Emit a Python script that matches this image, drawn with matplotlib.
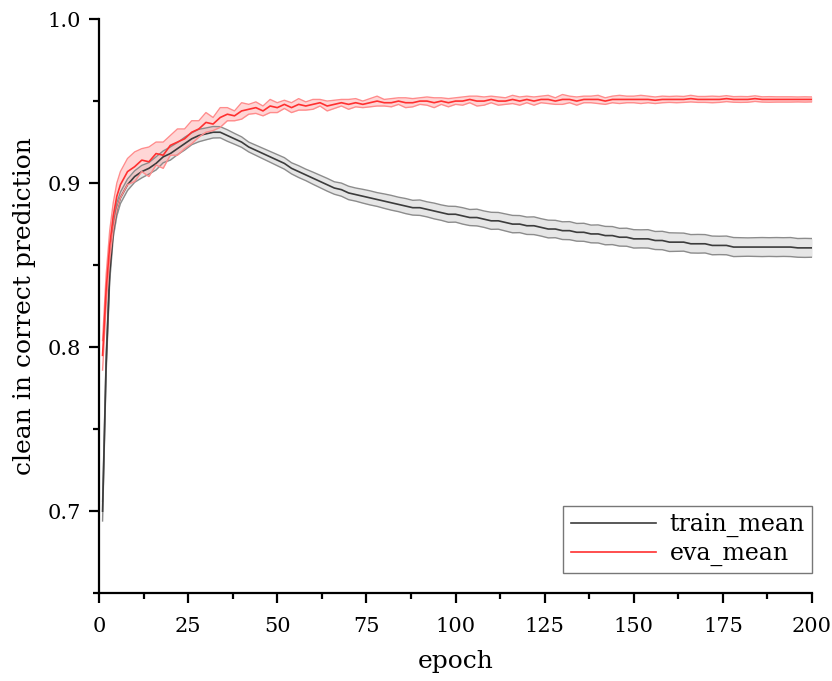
import matplotlib.pyplot as plt
import numpy as np

epoch = np.r_[1:7, 8:201:2]

train_mean = [
    0.700, 0.790, 0.845, 0.871, 0.884, 0.891,
    0.899, 0.904, 0.907, 0.909, 0.912, 0.916, 0.918, 0.921, 0.924, 0.927,
    0.929, 0.930, 0.931, 0.931, 0.929, 0.927, 0.925, 0.922, 0.920, 0.918,
    0.916, 0.914, 0.912, 0.909, 0.907, 0.905, 0.903, 0.901, 0.899, 0.897,
    0.896, 0.894, 0.893, 0.892, 0.891, 0.890, 0.889, 0.888, 0.887, 0.886,
    0.885, 0.885, 0.884, 0.883, 0.882, 0.881, 0.881, 0.880, 0.879, 0.879,
    0.878, 0.877, 0.877, 0.876, 0.875, 0.875, 0.874, 0.874, 0.873, 0.872,
    0.872, 0.871, 0.871, 0.870, 0.870, 0.869, 0.869, 0.868, 0.868, 0.867,
    0.867, 0.866, 0.866, 0.866, 0.865, 0.865, 0.864, 0.864, 0.864, 0.863,
    0.863, 0.863, 0.862, 0.862, 0.862, 0.861, 0.861, 0.861, 0.861, 0.861,
    0.861, 0.861, 0.861, 0.861, 0.8605, 0.8605, 0.8605,
]
train_err = [
    0.006, 0.006, 0.005, 0.004, 0.004, 0.0035,
    0.0035, 0.0035, 0.0038, 0.0035, 0.004, 0.0036, 0.004, 0.0037, 0.0039, 0.0036,
    0.0038, 0.0036, 0.0035, 0.0034, 0.0035, 0.0033, 0.0032, 0.003, 0.0031, 0.0032,
    0.0033, 0.0034, 0.0035, 0.0034, 0.0036, 0.0035, 0.0037, 0.0038, 0.0039, 0.0038,
    0.004, 0.0041, 0.004, 0.0042, 0.0043, 0.0042, 0.0044, 0.0045, 0.0044, 0.0046,
    0.0045, 0.0047, 0.0046, 0.0048, 0.0047, 0.0049, 0.0048, 0.005, 0.0049, 0.0051,
    0.005, 0.0052, 0.0051, 0.0052, 0.0053, 0.0052, 0.0053, 0.0054, 0.0053, 0.0054,
    0.0053, 0.0054, 0.0055, 0.0054, 0.0055, 0.0054, 0.0055, 0.0056, 0.0055, 0.0054,
    0.0055, 0.0056, 0.0055, 0.0056, 0.0055, 0.0056, 0.0057, 0.0056, 0.0055, 0.0056,
    0.0057, 0.0056, 0.0057, 0.0056, 0.0057, 0.0058, 0.0057, 0.0056, 0.0057, 0.0058,
    0.0057, 0.0058, 0.0057, 0.0058, 0.0057, 0.0058, 0.0057,
]

eva_mean = [
    0.795, 0.835, 0.862, 0.880, 0.892, 0.899,
    0.907, 0.910, 0.914, 0.913, 0.918, 0.917, 0.923, 0.925, 0.927, 0.931,
    0.933, 0.937, 0.936, 0.940, 0.942, 0.941, 0.944, 0.945, 0.946, 0.944,
    0.947, 0.946, 0.948, 0.946, 0.948, 0.947, 0.948, 0.949, 0.947, 0.948,
    0.949, 0.948, 0.949, 0.948, 0.949, 0.950, 0.949, 0.949, 0.950, 0.949,
    0.949, 0.950, 0.950, 0.949, 0.950, 0.949, 0.950, 0.950, 0.951, 0.950,
    0.950, 0.951, 0.950, 0.950, 0.951, 0.950, 0.951, 0.950, 0.951, 0.951,
    0.950, 0.951, 0.951, 0.950, 0.951, 0.951, 0.951, 0.950, 0.951, 0.951,
    0.951, 0.951, 0.951, 0.951, 0.9505, 0.951, 0.951, 0.951, 0.951, 0.9515,
    0.951, 0.951, 0.951, 0.951, 0.9515, 0.951, 0.951, 0.951, 0.9515, 0.951,
    0.951, 0.951, 0.951, 0.951, 0.951, 0.951, 0.951,
]
eva_err = [
    0.009, 0.009, 0.009, 0.008, 0.008, 0.008,
    0.008, 0.009, 0.007, 0.009, 0.007, 0.008, 0.006, 0.008, 0.006, 0.007,
    0.005, 0.006, 0.004, 0.006, 0.004, 0.003, 0.005, 0.003, 0.0035, 0.003,
    0.004, 0.003, 0.0025, 0.003, 0.0035, 0.0025, 0.003, 0.002, 0.003, 0.0025,
    0.002, 0.003, 0.0025, 0.002, 0.0025, 0.003, 0.002, 0.0025, 0.002, 0.003,
    0.0025, 0.002, 0.0025, 0.003, 0.002, 0.0025, 0.002, 0.0025, 0.002, 0.003,
    0.0025, 0.002, 0.0025, 0.002, 0.0025, 0.0025, 0.002, 0.0025, 0.002, 0.0025,
    0.002, 0.003, 0.002, 0.0025, 0.002, 0.002, 0.0025, 0.002, 0.002, 0.0025,
    0.002, 0.002, 0.0025, 0.002, 0.002, 0.002, 0.0018, 0.002, 0.0018, 0.002,
    0.0018, 0.0018, 0.002, 0.0018, 0.0018, 0.0017, 0.0018, 0.0017, 0.0017, 0.0016,
    0.0017, 0.0016, 0.0016, 0.0016, 0.0015, 0.0016, 0.0015,
]

plt.rcParams['font.family'] = ['DejaVu Serif']

train_mean = np.array(train_mean)
train_err = np.array(train_err)
eva_mean = np.array(eva_mean)
eva_err = np.array(eva_err)

fig = plt.figure(figsize=(8.32, 6.81), dpi=100)
ax = fig.add_axes([0.119, 0.129, 0.857, 0.843])

# полоса разброса + средняя линия
ax.fill_between(epoch, train_mean - train_err, train_mean + train_err,
                color='#e6e6e6', lw=0)
ax.plot(epoch, train_mean + train_err, color='#8c8c8c', lw=1)
ax.plot(epoch, train_mean - train_err, color='#8c8c8c', lw=1)
ax.plot(epoch, train_mean, color='#3c3c3c', lw=1.2, label='train_mean')

ax.fill_between(epoch, eva_mean - eva_err, eva_mean + eva_err,
                color='#ff9a9a', alpha=0.4, lw=0)
ax.plot(epoch, eva_mean + eva_err, color='#ff8c8c', lw=1)
ax.plot(epoch, eva_mean - eva_err, color='#ff8c8c', lw=1)
ax.plot(epoch, eva_mean, color='#ff3030', lw=1.2, label='eva_mean')

ax.set_xlim(0, 200)
ax.set_ylim(0.65, 1.0)
ax.set_xticks(np.arange(0, 201, 25))
ax.set_xticks(np.arange(0, 201, 12.5), minor=True)
ax.set_yticks([0.7, 0.8, 0.9, 1.0])
ax.set_yticks(np.arange(0.65, 1.001, 0.05), minor=True)
ax.set_yticklabels(['0.7', '0.8', '0.9', '1.0'])

for side in ['top', 'right']:
    ax.spines[side].set_visible(False)
for side in ['left', 'bottom']:
    ax.spines[side].set_linewidth(1.6)

ax.tick_params(which='major', direction='out', length=7, width=1.6,
               labelsize=15)
ax.tick_params(axis='x', which='major', pad=10)
ax.tick_params(axis='y', which='major', pad=6)
ax.tick_params(which='minor', direction='out', length=4, width=1.6)

ax.set_xlabel('epoch', fontsize=18, labelpad=10)
ax.set_ylabel('clean in correct prediction', fontsize=18, labelpad=8)

leg = ax.legend(loc='lower right', bbox_to_anchor=(1.0, 0.035), fontsize=17,
                frameon=True, fancybox=False, handlelength=3.6,
                borderpad=0.3, labelspacing=0.2, handletextpad=0.6,
                borderaxespad=0)
leg.get_frame().set_edgecolor('#555555')
leg.get_frame().set_linewidth(1.0)

fig.savefig('out.png', dpi=100)
